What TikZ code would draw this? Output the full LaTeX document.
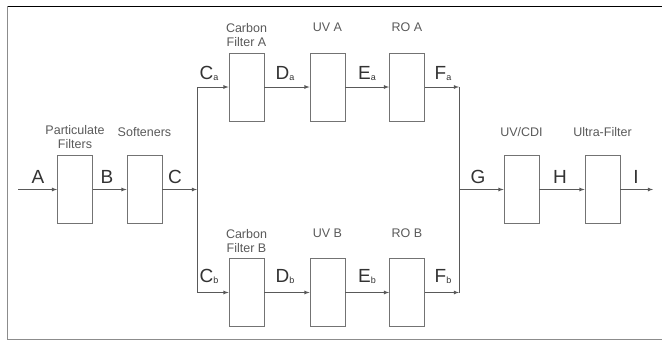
\documentclass[tikz,border=0pt]{standalone}
\usepackage{fontspec}
\setmainfont{Liberation Sans}
\usetikzlibrary{arrows,positioning}
\newcommand\strm[2]{#1\raisebox{-1.5pt}{\fontsize{9}{9}\selectfont #2}}

\begin{document}
\begin{tikzpicture}[x=1pt,y=-1pt,
    unit/.style={draw=black!55,line width=0.8pt,minimum width=35pt,minimum height=68pt,inner sep=0pt},
    pipe/.style={draw=black!65,line width=0.8pt},
    flow/.style={pipe,-latex},
    unitname/.style={text=black!65,font=\fontsize{12.5}{14}\selectfont,align=center,anchor=base},
    stream/.style={text=black!80,font=\fontsize{19}{19}\selectfont,anchor=base}]
  \useasboundingbox (0,0) rectangle (662,341);

  % frame
  \draw[black,line width=1pt] (7,6) -- (662,6);
  \draw[black!45,line width=0.8pt] (7,6) -- (7,339) -- (662,339);

  % units
  \node[unit] (pf) at (75,189.5) {};
  \node[unit] (sf) at (144.5,189.5) {};
  \node[unit] (cfa) at (246.5,87) {};
  \node[unit] (uva) at (327.5,87) {};
  \node[unit] (roa) at (407,87) {};
  \node[unit] (cfb) at (246.5,292.5) {};
  \node[unit] (uvb) at (327.5,292.5) {};
  \node[unit] (rob) at (407,292.5) {};
  \node[unit] (cdi) at (521.5,189.5) {};
  \node[unit] (uf) at (602.5,189.5) {};

  % names (base = last line)
  \node[unitname] (pfL) at (75,148) {Particulate\\Filters};
  \node[unitname] (sfL) at (144.5,136) {Softeners};
  \node[unitname] (cfaL) at (246.5,46) {Carbon\\Filter A};
  \node[unitname] (uvaL) at (327.5,31) {UV A};
  \node[unitname] (roaL) at (407,31) {RO A};
  \node[unitname] (cfbL) at (246.5,252) {Carbon\\Filter B};
  \node[unitname] (uvbL) at (327.5,237) {UV B};
  \node[unitname] (robL) at (407,237) {RO B};
  \node[unitname] (cdiL) at (521.5,136) {UV/CDI};
  \node[unitname] (ufL) at (602.5,136) {Ultra-Filter};

  % junctions
  \coordinate (in) at (18,189.5);
  \coordinate (split) at (197,189.5);
  \coordinate (splitA) at (197,87);
  \coordinate (splitB) at (197,292.5);
  \coordinate (mixA) at (459,87);
  \coordinate (mixB) at (459,292.5);
  \coordinate (mix) at (459,189.5);
  \coordinate (out) at (653,189.5);

  \draw[flow] (in) -- (pf);
  \draw[flow] (pf) -- (sf);
  \draw[flow] (sf) -- (split);
  \draw[pipe] (splitA) -- (splitB);
  \draw[flow] (splitA) -- (cfa);
  \draw[flow] (cfa) -- (uva);
  \draw[flow] (uva) -- (roa);
  \draw[flow] (roa) -- (mixA);
  \draw[flow] (splitB) -- (cfb);
  \draw[flow] (cfb) -- (uvb);
  \draw[flow] (uvb) -- (rob);
  \draw[flow] (rob) -- (mixB);
  \draw[pipe] (mixA) -- (mixB);
  \draw[flow] (mix) -- (cdi);
  \draw[flow] (cdi) -- (uf);
  \draw[flow] (uf) -- (out);

  % streams
  \node[stream] (sA) at (38,183) {A};
  \node[stream] (sB) at (107,183) {B};
  \node[stream] (sC) at (175,183) {C};
  \node[stream] (sCa) at (209,79) {\strm{C}{a}};
  \node[stream] (sDa) at (285,79) {\strm{D}{a}};
  \node[stream] (sEa) at (367,79) {\strm{E}{a}};
  \node[stream] (sFa) at (443,79) {\strm{F}{a}};
  \node[stream] (sCb) at (209,282) {\strm{C}{b}};
  \node[stream] (sDb) at (285,282) {\strm{D}{b}};
  \node[stream] (sEb) at (367,282) {\strm{E}{b}};
  \node[stream] (sFb) at (443,282) {\strm{F}{b}};
  \node[stream] (sG) at (478,183) {G};
  \node[stream] (sH) at (560,183) {H};
  \node[stream] (sI) at (636,183) {I};
\end{tikzpicture}
\end{document}
